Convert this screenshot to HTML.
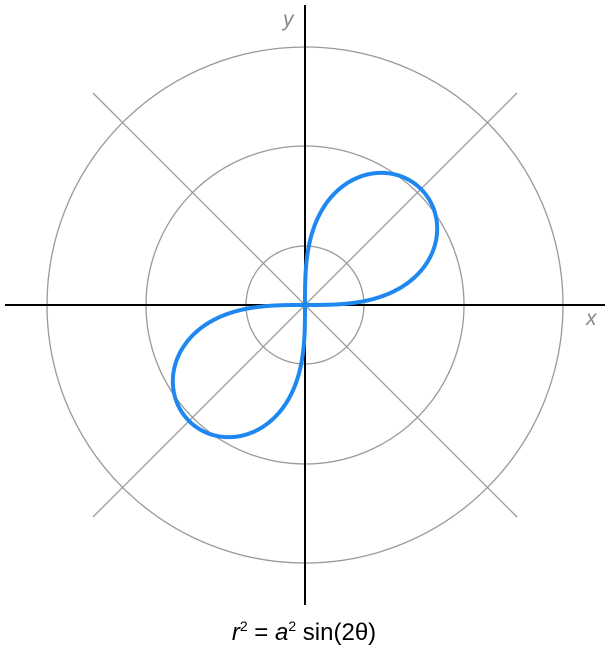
<!DOCTYPE html>
<html><head><meta charset="utf-8"><style>
html,body{margin:0;padding:0;background:#fff;width:610px;height:650px;overflow:hidden}
svg{display:block}
</style></head><body>
<svg width="610" height="650" viewBox="0 0 610 650" xmlns="http://www.w3.org/2000/svg">
<g fill="none" stroke="#999" stroke-width="1.3">
<circle cx="305" cy="305" r="59"/>
<circle cx="305" cy="305" r="159"/>
<circle cx="305" cy="305" r="258"/>
<line x1="93" y1="93" x2="517" y2="517"/>
<line x1="517" y1="93" x2="93" y2="517"/>
</g>
<g stroke="#000" stroke-width="2">
<line x1="5" y1="305" x2="605" y2="305"/>
<line x1="305" y1="5" x2="305" y2="605"/>
</g>
<polyline id="lem" fill="none" stroke="#1e88f0" stroke-width="4" stroke-linejoin="round" stroke-linecap="round"
points="305,305 335.6,304.5 364.2,301.1 387.7,294.1 417,275 432.4,252.2 437.2,228.7 432.9,206.9 421,189 403.1,177.1 381.3,172.8 357.8,177.6 335,193 315.9,222.3 308.9,245.8 305.5,274.4 305,305 304.5,335.6 301.1,364.2 294.1,387.7 275,417 252.2,432.4 228.7,437.2 206.9,432.9 189,421 177.1,403.1 172.8,381.3 177.6,357.8 193,335 222.3,315.9 245.8,308.9 274.4,305.5 305,305"/>
<text x="283" y="26" font-family="Liberation Sans, sans-serif" font-style="italic" font-size="21" fill="#888">y</text>
<text x="586" y="325" font-family="Liberation Sans, sans-serif" font-style="italic" font-size="21" fill="#888">x</text>
<text x="304" y="640" text-anchor="middle" font-family="Liberation Sans, sans-serif" font-size="24" fill="#000"><tspan font-style="italic">r</tspan><tspan font-size="14" dy="-9">2</tspan><tspan dy="9"> = </tspan><tspan font-style="italic">a</tspan><tspan font-size="14" dy="-9">2</tspan><tspan dy="9"> sin(2θ)</tspan></text>
</svg>
<script>
(function(){
var a=164,pts=[],i,t,r,N=400;
for(var s=0;s<2;s++){
 for(i=0;i<=N;i++){
  var u=i/N; t=(Math.PI/2)*(0.5-0.5*Math.cos(Math.PI*u));
  r=a*Math.sqrt(Math.max(0,Math.sin(2*t)));
  var x=r*Math.cos(t),y=r*Math.sin(t);
  if(s==0)pts.push((305+x).toFixed(2)+","+(305-y).toFixed(2));
  else pts.push((305-x).toFixed(2)+","+(305+y).toFixed(2));
 }
}
document.getElementById("lem").setAttribute("points",pts.join(" "));
})();
</script>
</body></html>
